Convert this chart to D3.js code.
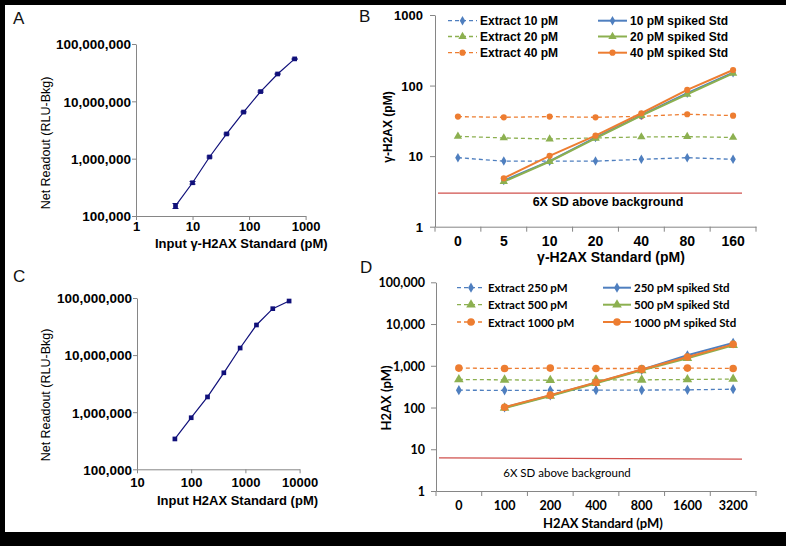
<!DOCTYPE html>
<html><head><meta charset="utf-8">
<script src="https://cdn.jsdelivr.net/npm/d3@7"></script>
<style>body{margin:0;background:#000}svg{display:block}</style>
</head><body>
<svg id="c" width="786" height="546"></svg>
<script>
// ---------- DATA ----------
// Panel A: gamma-H2AX standard curve
const xA = [5, 10, 20, 40, 80, 160, 320, 640];
const yA = [150000, 380000, 1070000, 2700000, 6500000, 14800000, 30000000, 55000000];
const errA = [15000, 20000, 40000, 90000, 200000, 400000, 800000, 1200000];
const ticksAxA = [1, 10, 100, 1000];
const ticksAyA = [100000, 1000000, 10000000, 100000000];
// Panel C: H2AX standard curve
const xC = [50, 100, 200, 400, 800, 1600, 3200, 6400];
const yC = [340000, 800000, 1850000, 4900000, 13300000, 33700000, 65000000, 88500000];
const ticksCx = [10, 100, 1000, 10000];
const ticksCy = [100000, 1000000, 10000000, 100000000];
// Panel B
const catsB = ["0", "5", "10", "20", "40", "80", "160"];
const extract10 = [9.5, 8.5, 8.5, 8.5, 9.0, 9.5, 9.0];
const extract20 = [19.1, 18.1, 17.5, 18.1, 18.7, 18.9, 18.4];
const extract40 = [36.3, 35.5, 36.3, 35.5, 36.7, 39.2, 37.5];
const spiked10 = [null, 4.5, 8.5, 18.3, 38, 78, 152];
const spiked20 = [null, 4.35, 8.4, 17.9, 37.5, 75.3, 149];
const spiked40 = [null, 4.86, 10.1, 19.5, 40.5, 86.7, 166];
const ticksBy = [1, 10, 100, 1000];
const thresholdB = [3, 3];
// Panel D
const catsD = ["0", "100", "200", "400", "800", "1600", "3200"];
const extract250 = [260, 258, 258, 260, 262, 265, 275];
const extract500 = [470, 460, 450, 460, 460, 470, 480];
const extract1000 = [880, 860, 880, 860, 860, 880, 860];
const spiked250 = [null, 100, 195, 395, 800, 1780, 3540];
const spiked500 = [null, 97, 188, 380, 776, 1520, 3100];
const spiked1000 = [null, 102, 198, 400, 818, 1617, 3260];
const ticksDy = [1, 10, 100, 1000, 10000, 100000];
const thresholdD = [6.2, 5.8];

// ---------- STYLE ----------
const BLUE = "#4f7fbf", GREEN = "#8cb050", ORANGE = "#ed7d31", NAVY = "#10107a", RED = "#d0504d", AX = "#868686";
const ARIAL = "'Liberation Sans', Arial, sans-serif";
const CAL = "Lato, 'Liberation Sans', sans-serif";

const svg = d3.select("#c");
svg.append("rect").attr("width", 786).attr("height", 546).attr("fill", "#000");
svg.append("rect").attr("x", 5).attr("y", 5).attr("width", 781).attr("height", 527).attr("fill", "#fff");

function styleAxis(g, font, size, weight) {
  g.select(".domain").attr("stroke", AX).attr("stroke-width", 1);
  g.selectAll(".tick line").attr("stroke", AX);
  g.selectAll("text").attr("fill", "#000").attr("font-family", font).attr("font-size", size).attr("font-weight", weight);
}
function letter(t, x, y) {
  svg.append("text").attr("x", x).attr("y", y).attr("font-family", ARIAL).attr("font-size", 17).attr("fill", "#111").text(t);
}
function vtitle(t, x, y, font, size, weight) {
  svg.append("text").attr("transform", `translate(${x},${y}) rotate(-90)`).attr("text-anchor", "middle")
    .attr("dominant-baseline", "central").attr("font-family", font).attr("font-size", size).attr("font-weight", weight).attr("fill", "#000").text(t);
}
function htitle(t, x, y, anchor, font, size, weight) {
  svg.append("text").attr("x", x).attr("y", y).attr("text-anchor", anchor).attr("dominant-baseline", "central")
    .attr("font-family", font).attr("font-size", size).attr("font-weight", weight).attr("fill", "#000").text(t);
}

// ---------- Standard curves (A, C) ----------
function stdCurve(xs, ys, errs, xDom, xRange, yRange, xt, yt, xPad, xTitle, titleX, titleY, yTitleY) {
  const x = d3.scaleLog().domain(xDom).range(xRange);
  const y = d3.scaleLog().domain([1e5, 1e8]).range(yRange);
  const gx = svg.append("g").attr("transform", `translate(0,${yRange[0]})`)
    .call(d3.axisBottom(x).tickValues(xt).tickFormat(d3.format("d")).tickSize(4).tickSizeOuter(0).tickPadding(xPad));
  styleAxis(gx, ARIAL, 13, "bold");
  const gy = svg.append("g").attr("transform", `translate(${xRange[0]},0)`)
    .call(d3.axisLeft(y).tickValues(yt).tickFormat(d3.format(",")).tickSize(4).tickSizeOuter(0).tickPadding(1));
  styleAxis(gy, ARIAL, 13.5, "bold");
  gy.selectAll("text").attr("dy", "0.36em");
  const pts = xs.map((v, i) => [v, ys[i], errs ? errs[i] : 0]);
  if (errs) {
    const eb = svg.append("g").attr("stroke", NAVY).attr("stroke-width", 1);
    pts.forEach(p => {
      eb.append("line").attr("x1", x(p[0])).attr("x2", x(p[0])).attr("y1", y(p[1] - p[2])).attr("y2", y(p[1] + p[2]));
      [p[1] - p[2], p[1] + p[2]].forEach(v => eb.append("line").attr("x1", x(p[0]) - 3).attr("x2", x(p[0]) + 3).attr("y1", y(v)).attr("y2", y(v)));
    });
  }
  svg.append("path").datum(pts).attr("fill", "none").attr("stroke", NAVY).attr("stroke-width", 1.2)
    .attr("d", d3.line().x(d => x(d[0])).y(d => y(d[1])));
  svg.append("g").selectAll("path").data(pts).join("path")
    .attr("transform", d => `translate(${x(d[0])},${y(d[1])})`)
    .attr("d", d3.symbol(d3.symbolSquare, 22)).attr("fill", NAVY);
  vtitle("Net Readout (RLU-Bkg)", 46, yTitleY, ARIAL, 12.5, "normal");
  htitle(xTitle, titleX, titleY, "start", ARIAL, 13, "bold");
}
letter("A", 13, 24);
stdCurve(xA, yA, errA, [1, 1000], [136, 305.6], [216, 44], ticksAxA, ticksAyA, 2, "Input γ-H2AX Standard (pM)", 155, 243, 143);
letter("C", 13, 282);
stdCurve(xC, yC, null, [10, 10000], [137, 299.6], [469.3, 298], ticksCx, ticksCy, 4, "Input H2AX Standard (pM)", 157, 500, 395);

// ---------- Recovery panels (B, D) ----------
function recovery(cfg) {
  const x = d3.scaleBand().domain(cfg.cats).range(cfg.xRange).paddingInner(0).paddingOuter(0);
  const bw = x.bandwidth();
  const cx = c => x(c) + bw / 2;
  const y = d3.scaleLog().domain(cfg.yDom).range(cfg.yRange);
  const gx = svg.append("g").attr("transform", `translate(0,${cfg.yRange[0]})`)
    .call(d3.axisBottom(x).tickSize(0).tickSizeOuter(0).tickPadding(cfg.xPad));
  styleAxis(gx, cfg.font, cfg.xtSize, "bold");
  // category boundary ticks
  const bounds = cfg.cats.map(c => x(c)).concat([cfg.xRange[1]]);
  gx.selectAll("line.bt").data(bounds).join("line").attr("class", "bt")
    .attr("x1", d => d).attr("x2", d => d).attr("y1", 0).attr("y2", 5).attr("stroke", AX);
  const gy = svg.append("g").attr("transform", `translate(${cfg.xRange[0]},0)`)
    .call(d3.axisLeft(y).tickValues(cfg.yTicks).tickFormat(d3.format(cfg.yFmt)).tickSize(5).tickSizeOuter(0).tickPadding(cfg.yPad));
  styleAxis(gy, cfg.font, cfg.ytSize, "bold");
  gy.selectAll("text").attr("dy", "0.36em");

  // threshold
  svg.append("line").attr("x1", cfg.xRange[0] + 3).attr("x2", cfg.xRange[1] - 14)
    .attr("y1", y(cfg.threshold[0])).attr("y2", y(cfg.threshold[1])).attr("stroke", RED).attr("stroke-width", 1.3);
  htitle("6X SD above background", cfg.thrLabel[0], cfg.thrLabel[1], "middle", cfg.font, cfg.thrSize, cfg.thrWeight);

  const sym = { diamond: d3.symbolDiamond, triangle: d3.symbolTriangle, circle: d3.symbolCircle };
  function series(vals, color, dashed, shape, sw) {
    const pts = cfg.cats.map((c, i) => [c, vals[i]]).filter(d => d[1] != null);
    svg.append("path").datum(pts).attr("fill", "none").attr("stroke", color).attr("stroke-width", sw)
      .attr("stroke-dasharray", dashed ? "4,3" : null)
      .attr("d", d3.line().x(d => cx(d[0])).y(d => y(d[1])));
    svg.append("g").selectAll("path").data(pts).join("path")
      .attr("transform", d => `translate(${cx(d[0])},${y(d[1])})`)
      .attr("d", d3.symbol(sym[shape], cfg.msize[shape])).attr("fill", color);
  }
  cfg.series.forEach(s => series(s.vals, s.color, s.dashed, s.shape, s.dashed ? 1.3 : 2));

  // legend
  cfg.series.forEach((s, i) => {
    const col = s.dashed ? 0 : 1;
    const row = i % 3;
    const lx = cfg.legX[col], ly = cfg.legY[row];
    svg.append("line").attr("x1", lx).attr("x2", lx + cfg.legLen).attr("y1", ly).attr("y2", ly)
      .attr("stroke", s.color).attr("stroke-width", s.dashed ? 1.3 : 2).attr("stroke-dasharray", s.dashed ? "4,3" : null);
    svg.append("path").attr("transform", `translate(${lx + cfg.legLen / 2},${ly})`)
      .attr("d", d3.symbol(sym[s.shape], cfg.msize[s.shape])).attr("fill", s.color);
    htitle(s.name, lx + cfg.legLen + 3, ly, "start", cfg.font, cfg.legSize, "bold");
  });
  vtitle(cfg.yTitle, cfg.yTitlePos[0], cfg.yTitlePos[1], cfg.font, cfg.yTitleSize, "bold");
  htitle(cfg.xTitle, cfg.xTitlePos[0], cfg.xTitlePos[1], "middle", cfg.font, cfg.xTitleSize, "bold");
}

letter("B", 359, 22);
recovery({
  cats: catsB, xRange: [435, 756], yDom: [1, 1000], yRange: [226.7, 15], yTicks: ticksBy, yFmt: "d",
  font: ARIAL, xtSize: 14, ytSize: 13, xPad: 9, yPad: 7,
  threshold: thresholdB, thrLabel: [608, 202], thrSize: 12.5, thrWeight: "bold",
  msize: { diamond: 26, triangle: 30, circle: 30 },
  series: [
    { name: "Extract 10 pM", vals: extract10, color: BLUE, dashed: true, shape: "diamond" },
    { name: "Extract 20 pM", vals: extract20, color: GREEN, dashed: true, shape: "triangle" },
    { name: "Extract 40 pM", vals: extract40, color: ORANGE, dashed: true, shape: "circle" },
    { name: "10 pM spiked Std", vals: spiked10, color: BLUE, dashed: false, shape: "diamond" },
    { name: "20 pM spiked Std", vals: spiked20, color: GREEN, dashed: false, shape: "triangle" },
    { name: "40 pM spiked Std", vals: spiked40, color: ORANGE, dashed: false, shape: "circle" }
  ],
  legX: [448, 598], legY: [20.7, 36.5, 52.7], legLen: 29, legSize: 12,
  yTitle: "γ-H2AX (pM)", yTitlePos: [388, 127], yTitleSize: 12,
  xTitle: "γ-H2AX Standard (pM)", xTitlePos: [611, 257], xTitleSize: 14
});

letter("D", 360, 273);
recovery({
  cats: catsD, xRange: [436, 756], yDom: [1, 100000], yRange: [491, 282.3], yTicks: ticksDy, yFmt: ",",
  font: CAL, xtSize: 12.5, ytSize: 12.5, xPad: 10, yPad: 6,
  threshold: thresholdD, thrLabel: [567, 472], thrSize: 11.5, thrWeight: "normal",
  msize: { diamond: 30, triangle: 40, circle: 45 },
  series: [
    { name: "Extract 250 pM", vals: extract250, color: BLUE, dashed: true, shape: "diamond" },
    { name: "Extract 500 pM", vals: extract500, color: GREEN, dashed: true, shape: "triangle" },
    { name: "Extract 1000 pM", vals: extract1000, color: ORANGE, dashed: true, shape: "circle" },
    { name: "250 pM spiked Std", vals: spiked250, color: BLUE, dashed: false, shape: "diamond" },
    { name: "500 pM spiked Std", vals: spiked500, color: GREEN, dashed: false, shape: "triangle" },
    { name: "1000 pM spiked Std", vals: spiked1000, color: ORANGE, dashed: false, shape: "circle" }
  ],
  legX: [457, 603], legY: [287.7, 304.7, 322], legLen: 28, legSize: 11.5,
  yTitle: "H2AX (pM)", yTitlePos: [386, 398], yTitleSize: 13,
  xTitle: "H2AX Standard (pM)", xTitlePos: [603, 523], xTitleSize: 13
});
</script>
</body></html>
